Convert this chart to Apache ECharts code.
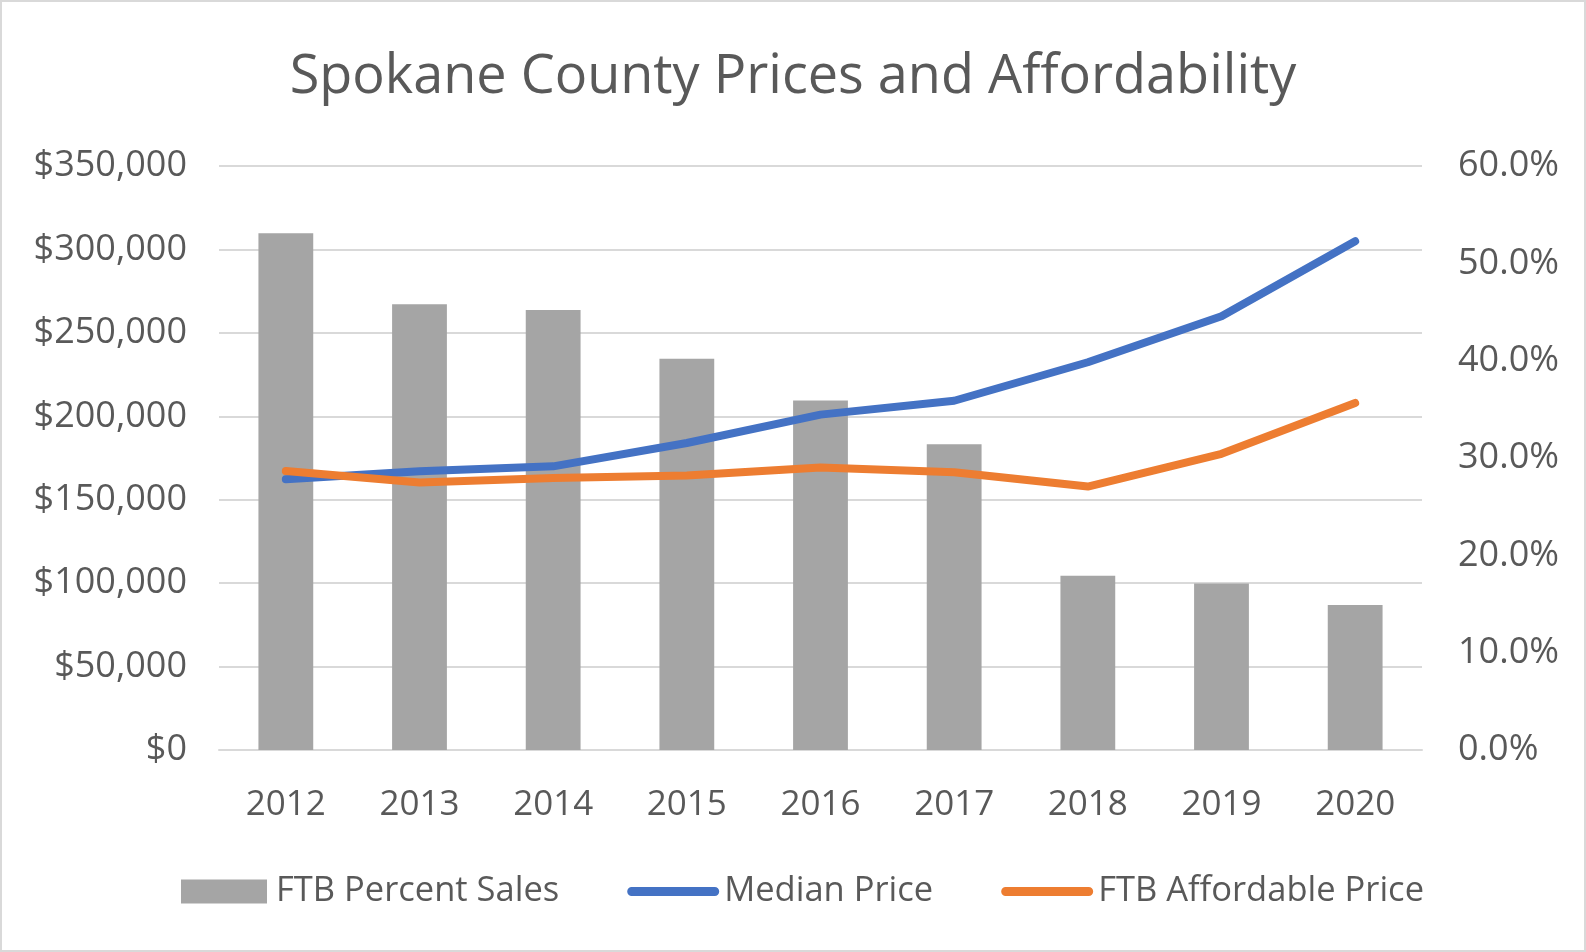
<!DOCTYPE html>
<html>
<head>
<meta charset="utf-8">
<script src="https://cdn.jsdelivr.net/npm/echarts@6/dist/echarts.min.js"></script>
<style>
  html, body { margin: 0; padding: 0; background: #fff; }
  #main { width: 1586px; height: 952px; box-sizing: border-box; border: 2px solid #d9d9d9; }
</style>
</head>
<body>
<div id="main"></div>
<script>
var years = ['2012', '2013', '2014', '2015', '2016', '2017', '2018', '2019', '2020'];
// FTB share of sales, percent
var ftbPercent = [53.1, 45.8, 45.2, 40.2, 35.9, 31.4, 17.9, 17.1, 14.9];
var medianPrice = [162300, 167000, 170000, 184000, 201000, 209300, 232400, 260000, 304900];
var affordablePrice = [167200, 160300, 163000, 164500, 169300, 166400, 157900, 177500, 208000];

var chart = echarts.init(document.getElementById('main'));
var txt = '#595959';
var font = 'Open Sans';
// thick line with round ends, padded to the full legend icon box
var lineIcon = 'path://M0,0M92,24M4,7.5L88,7.5A4.5,4.5 0 0 1 88,16.5L4,16.5A4.5,4.5 0 0 1 4,7.5Z';
var barIcon = 'path://M0,0M92,24M2,0L88,0L88,24L2,24Z';

var option = {
    animation: false,
    title: {
        text: 'Spokane County Prices and Affordability',
        left: 'center',
        top: 44,
        textStyle: { color: txt, fontFamily: font, fontSize: 54, fontWeight: 'normal' }
    },
    legend: {
        left: 172,
        top: 867,
        itemWidth: 92,
        itemHeight: 24,
        itemGap: 68,
        textStyle: { color: txt, fontFamily: font, fontSize: 34.5 },
        data: [
            { name: 'FTB Percent Sales', icon: barIcon },
            { name: 'Median Price', icon: lineIcon },
            { name: 'FTB Affordable Price', icon: lineIcon }
        ]
    },
    grid: { left: 217, right: 162, top: 164, bottom: 200 },
    xAxis: {
        type: 'category',
        data: years,
        axisTick: { show: false },
        axisLine: { lineStyle: { color: '#d9d9d9', width: 2 } },
        axisLabel: { color: txt, fontFamily: font, fontSize: 35, margin: 38 }
    },
    yAxis: [
        {
            type: 'value',
            min: 0,
            max: 350000,
            interval: 50000,
            axisLine: { show: false },
            axisTick: { show: false },
            splitLine: { lineStyle: { color: '#d9d9d9', width: 2 } },
            axisLabel: {
                color: txt, fontFamily: font, fontSize: 36, margin: 32,
                formatter: function (v) { return '$' + v.toLocaleString('en-US'); }
            }
        },
        {
            type: 'value',
            min: 0,
            max: 60,
            interval: 10,
            axisLine: { show: false },
            axisTick: { show: false },
            splitLine: { show: false },
            axisLabel: {
                color: txt, fontFamily: font, fontSize: 36, margin: 36,
                formatter: function (v) { return v.toFixed(1) + '%'; }
            }
        }
    ],
    series: [
        {
            name: 'FTB Percent Sales',
            type: 'bar',
            yAxisIndex: 1,
            barWidth: '41%',
            itemStyle: { color: '#a5a5a5' },
            data: ftbPercent
        },
        {
            name: 'Median Price',
            type: 'line',
            yAxisIndex: 0,
            showSymbol: false,
            symbol: 'none',
            lineStyle: { color: '#4472c4', width: 8, cap: 'round', join: 'round' },
            itemStyle: { color: '#4472c4' },
            data: medianPrice
        },
        {
            name: 'FTB Affordable Price',
            type: 'line',
            yAxisIndex: 0,
            showSymbol: false,
            symbol: 'none',
            lineStyle: { color: '#ed7d31', width: 8, cap: 'round', join: 'round' },
            itemStyle: { color: '#ed7d31' },
            data: affordablePrice
        }
    ]
};

chart.setOption(option);
</script>
</body>
</html>
